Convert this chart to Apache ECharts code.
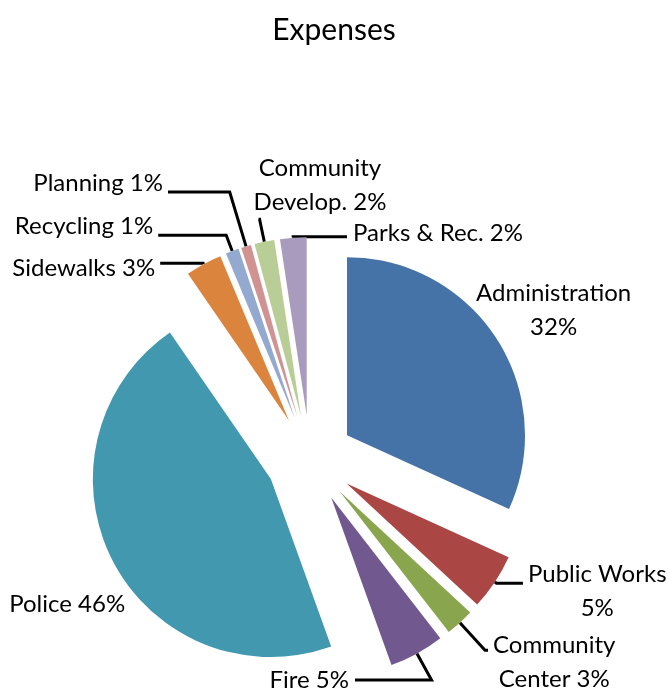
<!DOCTYPE html>
<html><head><meta charset="utf-8">
<script src="https://cdn.jsdelivr.net/npm/echarts@6/dist/echarts.min.js"></script>
<style>html,body{margin:0;padding:0;background:#fff}#c{width:668px;height:690px}</style>
</head><body><div id="c"></div>
<script>
// ---- data ----
const chartTitle = 'Expenses';
const categories = ['Administration', 'Public Works', 'Community Center', 'Fire', 'Police',
  'Sidewalks', 'Recycling', 'Planning', 'Community Develop.', 'Parks & Rec.'];
const values = [31.8, 5.1, 2.6, 5.0, 45.9, 3.3, 1.2, 0.9, 1.8, 2.4];
// number of words put on the first line of each label (0 = single line)
const wordsOnFirstLine = [1, 2, 1, 0, 0, 0, 0, 0, 1, 0];

// ---- styles ----
const colors = ['#4572A7', '#AA4643', '#89A54E', '#71588F', '#4198AF',
  '#DB843D', '#93A9CF', '#D19392', '#B9CD96', '#A99BBD'];
const FONT = 'Lato';
const labelTweaks = [
  { len: 53.4, len2: -70.6, hide: true },
  { len: 2, len2: 26.5, pad: [16, 0, 0, 0] },
  { len: 37.2, len2: 3, pad: [24, 0, 0, 0] },
  { len: 30.3, len2: -76.6, pad: [0, 11, 0, 0], align: 'right' },
  { len: 95.4, len2: -102.5, hide: true },
  { len: 1, len2: 43, pad: [10, 0, 0, 0] },
  { len: 17, len2: 68, pad: [0, 0, 18, 0] },
  { len: 56.8, len2: 61.7, pad: [0, 0, 18, 0] },
  { len: 23, len2: 1, align: 'left', valign: 'bottom' },
  { len: 1, len2: -53.8, pad: [0, 0, 7, 11], align: 'left' }
];

function labelText(p) {
  const words = (p.name + ' ' + Math.round(p.percent) + '%').split(' ');
  const k = wordsOnFirstLine[p.dataIndex];
  const lines = k > 0 ? [words.slice(0, k).join(' '), words.slice(k).join(' ')] : [words.join(' ')];
  return lines.map(function (l) { return '{c|' + l + '}'; }).join('\n');
}

const chart = echarts.init(document.getElementById('c'), null, { renderer: 'canvas' });
chart.setOption({
  animation: false,
  backgroundColor: '#ffffff',
  title: {
    text: chartTitle, left: 'center', top: 10,
    textStyle: { fontFamily: FONT, fontSize: 30, fontWeight: 'normal', color: '#000' }
  },
  series: [{
    type: 'pie',
    center: [310, 459],
    radius: 178,
    startAngle: 90,
    clockwise: true,
    selectedMode: 'multiple',
    selectedOffset: 44,
    avoidLabelOverlap: false,
    emphasis: { disabled: true },
    label: {
      show: true, position: 'outside', alignTo: 'none', bleedMargin: 0, distanceToLabelLine: 5,
      formatter: labelText,
      rich: { c: { fontFamily: FONT, fontSize: 24, lineHeight: 34, color: '#000', align: 'center' } }
    },
    labelLine: {
      show: true, smooth: false, minTurnAngle: 0, maxSurfaceAngle: 180,
      lineStyle: { color: '#000', width: 3 }
    },
    labelLayout: function (p) {
      const t = labelTweaks[p.dataIndex];
      const o = {};
      if (t.align) o.align = t.align;
      if (t.valign) o.verticalAlign = t.valign;
      return o;
    },
    data: categories.map(function (name, i) {
      const t = labelTweaks[i];
      return {
        name: name, value: values[i], selected: true,
        itemStyle: { color: colors[i] },
        label: { padding: t.pad || 0 },
        labelLine: {
          length: t.len, length2: t.len2,
          lineStyle: { color: '#000', width: 3, opacity: t.hide ? 0 : 1 }
        }
      };
    })
  }]
});
</script></body></html>
